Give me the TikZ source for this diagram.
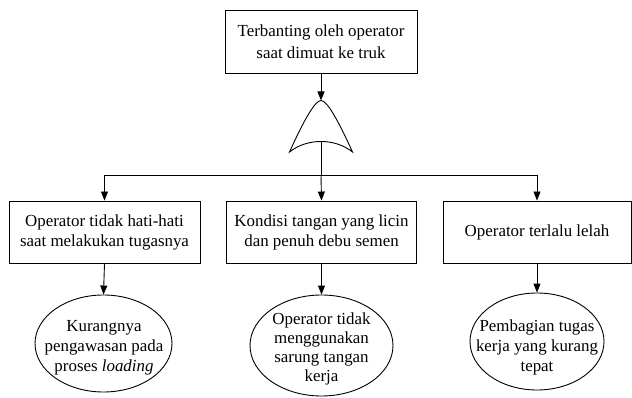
\documentclass[tikz,border=0pt]{standalone}
\usepackage{fontspec}
\setmainfont{Liberation Serif}
\usetikzlibrary{arrows.meta,shapes.geometric}
\begin{document}
\begin{tikzpicture}[x=1pt,y=-1pt,
  line width=0.9pt,
  font=\fontsize{16.9}{20}\selectfont,
  event/.style={draw,rectangle,inner sep=0pt,align=center},
  basic/.style={draw,ellipse,inner sep=0pt},
  lbl/.style={align=center,inner sep=0pt},
  arr/.style={-{Triangle[length=9pt,width=7pt]}}]
\useasboundingbox (0,0) rectangle (632,398);

% top event and intermediate events
\node[event,minimum width=192pt,minimum height=63pt,
      font=\fontsize{16.9}{21.5}\selectfont] (top) at (321,41.5)
  {Terbanting oleh operator\\saat dimuat ke truk};
\node[event,minimum width=191pt,minimum height=62pt] (lbox) at (104.5,232)
  {Operator tidak hati-hati\\saat melakukan tugasnya};
\node[event,minimum width=190pt,minimum height=62pt] (mbox) at (321.5,232)
  {Kondisi tangan yang licin\\dan penuh debu semen};
\node[event,minimum width=188pt,minimum height=62pt] (rbox) at (537,232)
  {Operator terlalu lelah};

% basic events
\node[basic,minimum width=137pt,minimum height=97pt] (lell) at (103.5,343.5) {};
\node[basic,minimum width=143pt,minimum height=101pt] (mell) at (321.5,345.5) {};
\node[basic,minimum width=134pt,minimum height=97pt] (rell) at (537,341.5) {};
\node[lbl] (ltxt) at (104,348) {Kurangnya\\pengawasan pada\\proses \textit{loading}};
\node[lbl,font=\fontsize{16.9}{19}\selectfont] (mtxt) at (321.5,349)
  {Operator tidak\\menggunakan\\sarung tangan\\kerja};
\node[lbl] (rtxt) at (537,347.5) {Pembagian tugas\\kerja yang kurang\\tepat};

% OR gate
\coordinate (gtop) at (321,100.5);
\coordinate (gl) at (289.5,152);
\coordinate (gr) at (352.5,152);
\coordinate (gbot) at (321,141.5);
\coordinate (junc) at (321,175);
\draw (gl) .. controls (304,120) and (315,100.5) .. (gtop)
           .. controls (327,100.5) and (338,120) .. (gr)
           .. controls (335,138) and (307,138) .. (gl) -- cycle;

% connectors
\draw[arr] (top.south) -- (gtop);
\draw (gbot) -- (junc);
\draw[arr] (junc) -| (lbox.north);
\draw[arr] (junc) -- (mbox.north);
\draw[arr] (junc) -| (rbox.north);
\draw[arr] (lbox.south) -- (lell.north);
\draw[arr] (mbox.south) -- (mell.north);
\draw[arr] (rbox.south) -- (rell.north);
\end{tikzpicture}
\end{document}
